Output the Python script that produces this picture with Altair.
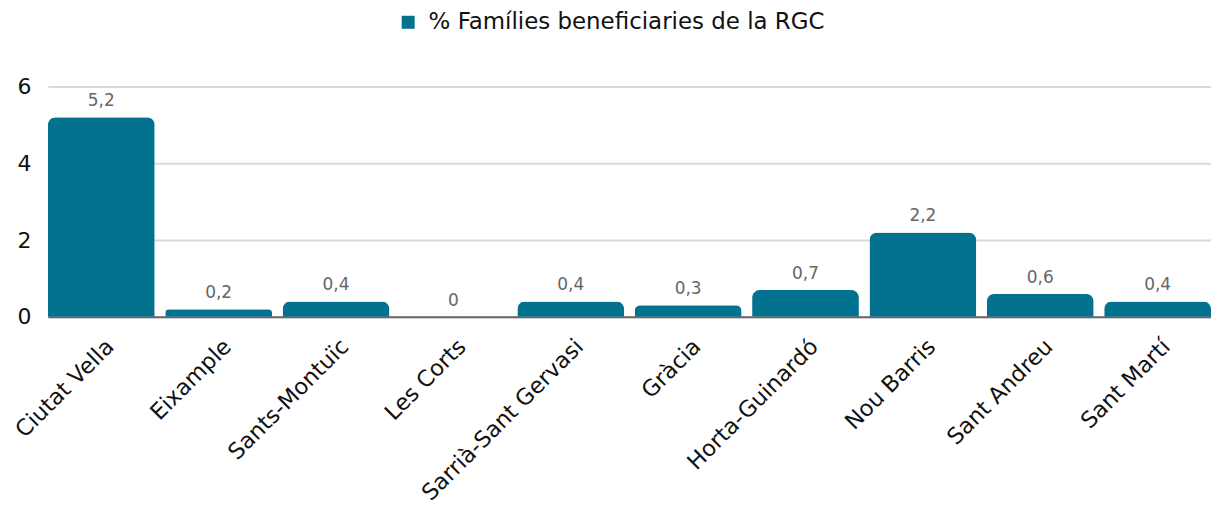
import altair as alt
import pandas as pd

districts = ["Ciutat Vella", "Eixample", "Sants-Montuïc", "Les Corts", "Sarrià-Sant Gervasi",
             "Gràcia", "Horta-Guinardó", "Nou Barris", "Sant Andreu", "Sant Martí"]
values = [5.2, 0.2, 0.4, 0, 0.4, 0.3, 0.7, 2.2, 0.6, 0.4]
series_name = "% Famílies beneficiaries de la RGC"
y_ticks = [0, 2, 4, 6]

BAR = "#03728f"
FONT = "DejaVu Sans"

df = pd.DataFrame({"district": districts, "value": values, "series": series_name})

base = alt.Chart(df).transform_calculate(
    label="replace(format(datum.value, '.1~f'), '.', ',')"
)

x_enc = alt.X(
    "district:N", sort=districts, title=None,
    scale=alt.Scale(paddingInner=0.09, paddingOuter=0),
    axis=alt.Axis(labelAngle=-45, labelAlign="right", labelBaseline="middle",
                  labelFontSize=22.5, labelColor="#111", labelFont=FONT,
                  labelPadding=26, labelOffset=9, ticks=False, domain=True,
                  domainColor="#666", domainWidth=2, labelLimit=400),
)
y_enc = alt.Y(
    "value:Q", title=None,
    scale=alt.Scale(domain=[0, 6], nice=False),
    axis=alt.Axis(values=y_ticks, labelFontSize=22, labelColor="#111", labelFont=FONT,
                  labelPadding=17, ticks=False, domain=False,
                  grid=True, gridColor="#d9d9d9", gridWidth=2),
)

bars = base.mark_bar(cornerRadiusTopLeft=8, cornerRadiusTopRight=8).encode(
    x=x_enc,
    y=y_enc,
    color=alt.Color(
        "series:N", title=None,
        scale=alt.Scale(domain=[series_name], range=[BAR]),
        legend=alt.Legend(orient="none", legendX=350, legendY=-76, direction="horizontal",
                          symbolType="square", symbolSize=170, labelFontSize=23,
                          labelFont=FONT, labelColor="#111", symbolStrokeWidth=0,
                          labelOffset=9, labelLimit=800),
    ),
)

text = base.mark_text(baseline="bottom", dy=-7, fontSize=17, color="#666", font=FONT).encode(
    x=alt.X("district:N", sort=districts),
    y=alt.Y("value:Q"),
    text="label:N",
)

chart = (bars + text).properties(
    width=1167, height=231,
    padding={"left": 3, "top": 2, "right": 0, "bottom": 0},
).configure_view(stroke=None)

chart.save("out.html", embed_options={"renderer": "svg", "actions": False})
